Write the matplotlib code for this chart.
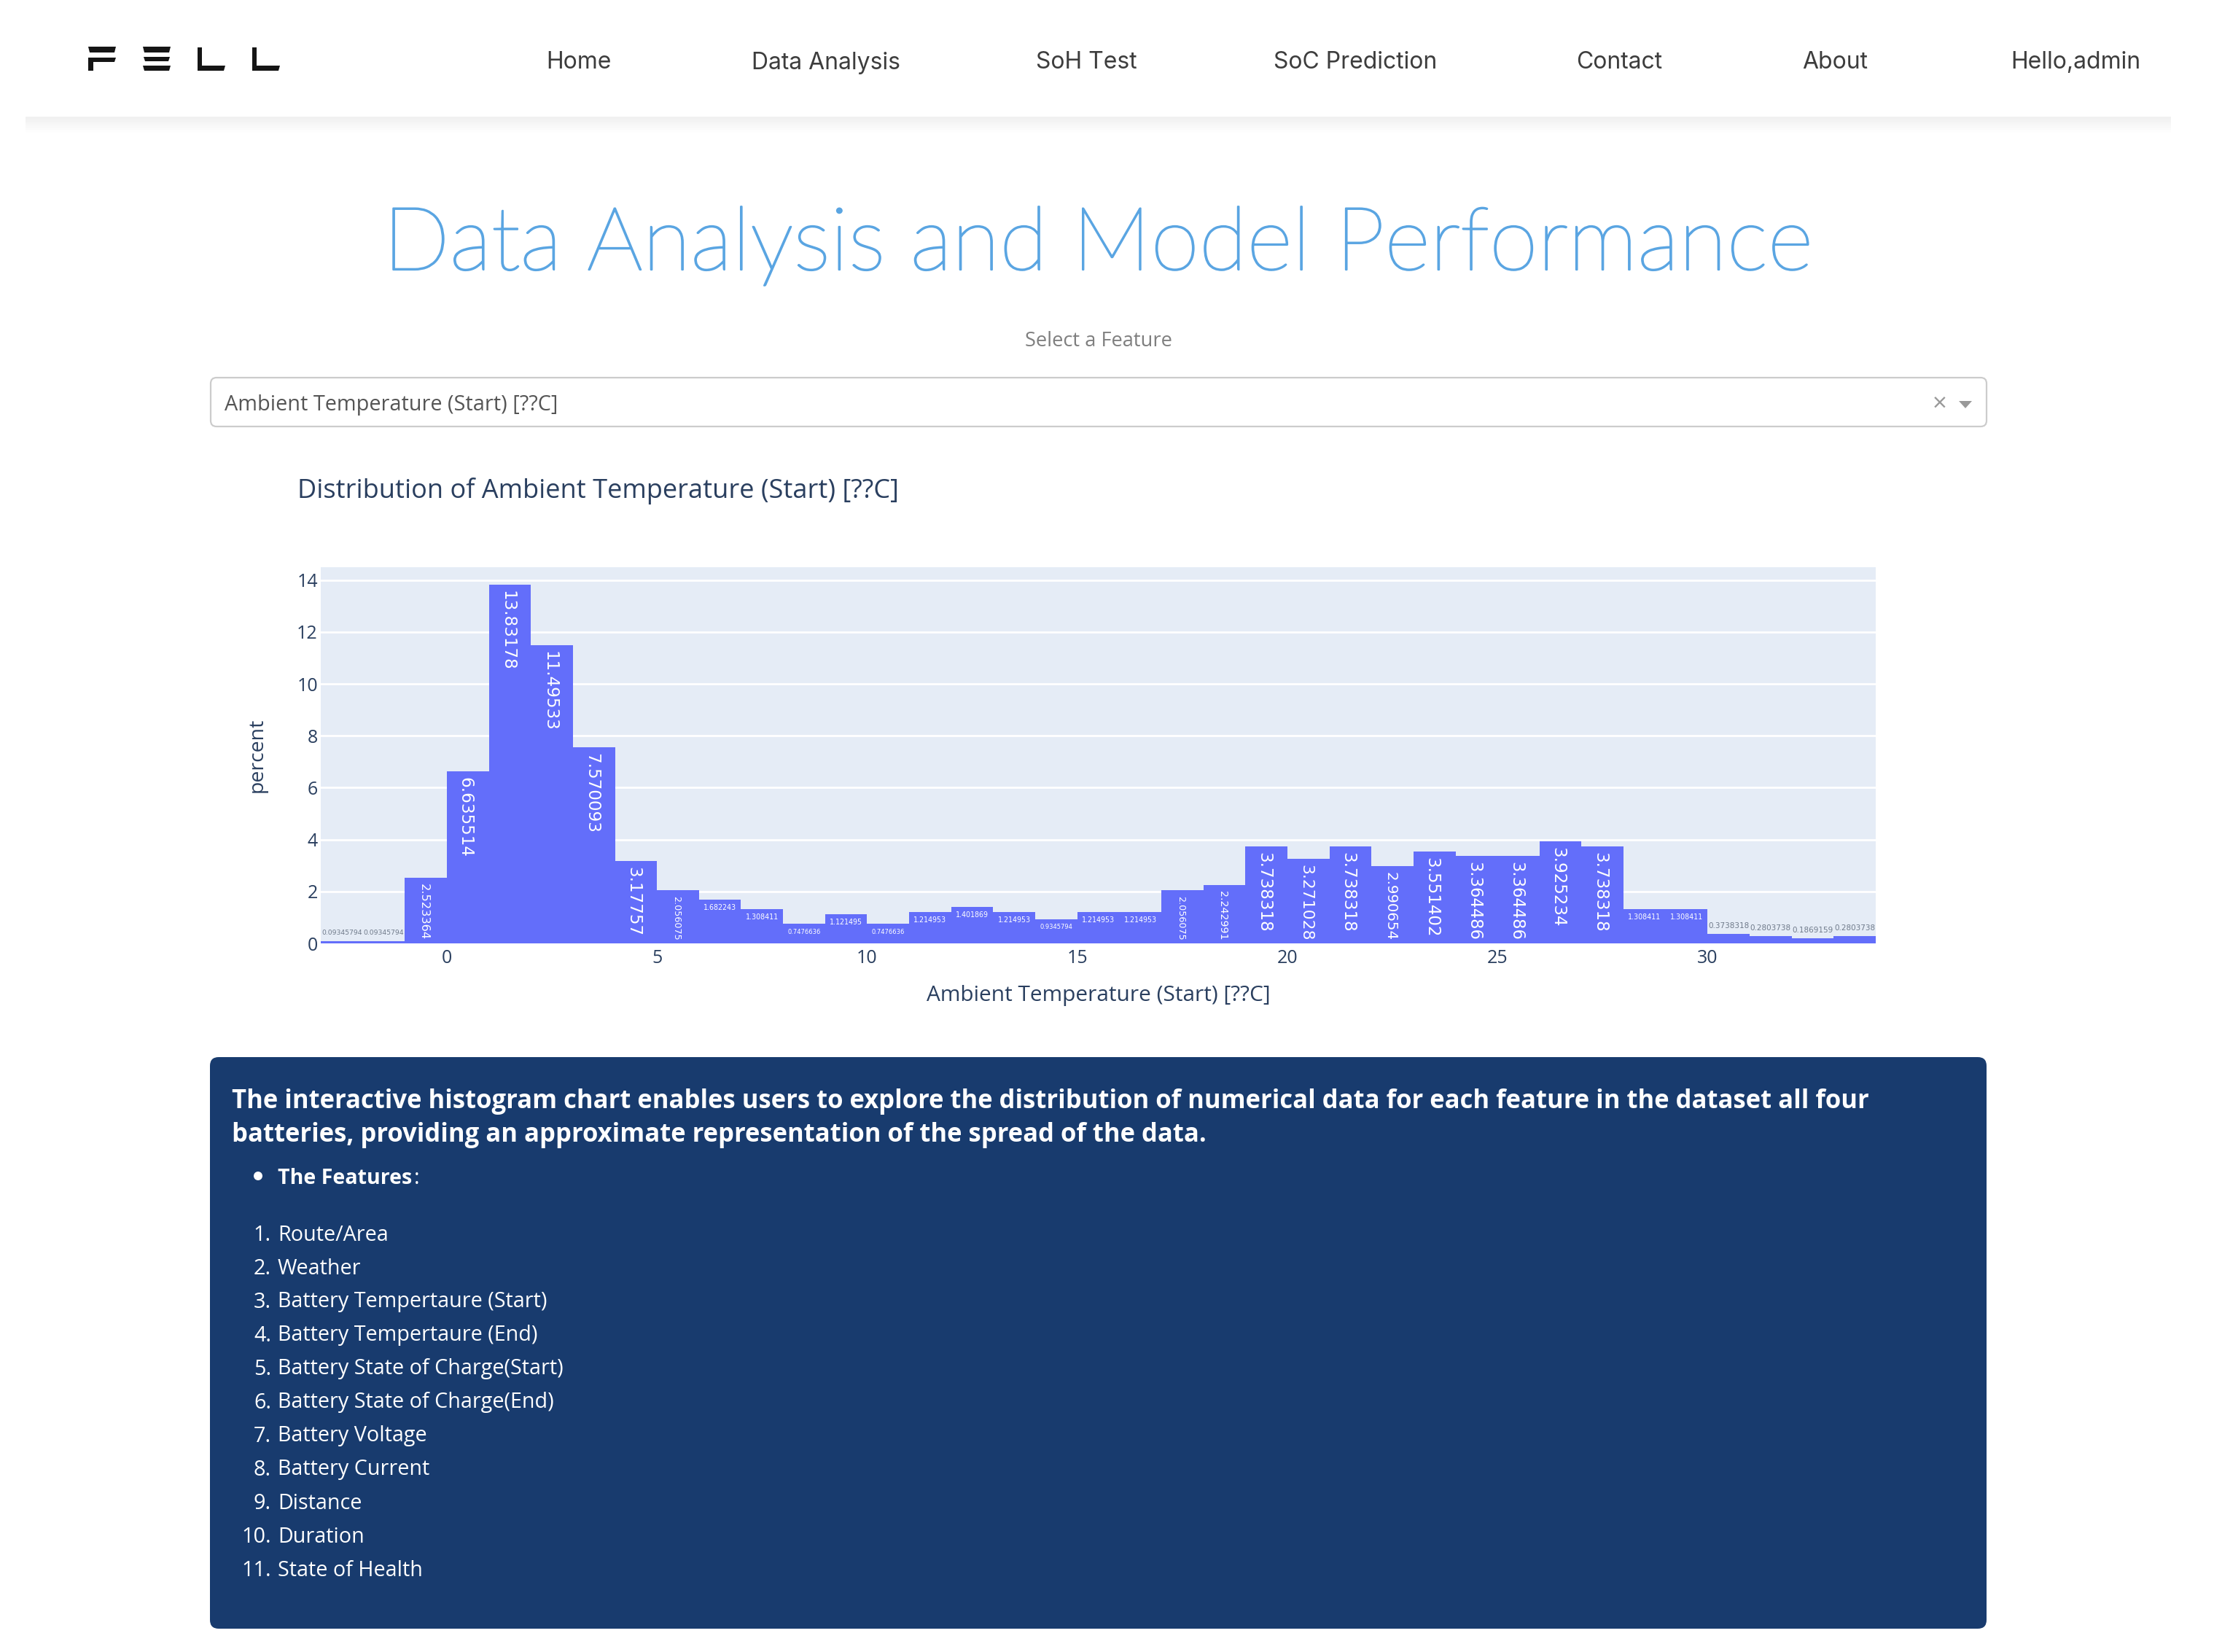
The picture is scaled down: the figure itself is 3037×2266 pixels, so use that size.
import matplotlib
matplotlib.use("Agg")
import matplotlib.pyplot as plt
import matplotlib.patheffects as pe
import numpy as np
from matplotlib.patches import FancyBboxPatch, Polygon

W, H = 3037, 2266

# histogram
bin_left = list(range(-3, 34))
percent = [0.09345794, 0.09345794, 2.523364, 6.635514, 13.83178, 11.49533, 7.570093, 3.17757,
           2.056075, 1.682243, 1.308411, 0.7476636, 1.121495, 0.7476636, 1.214953, 1.401869,
           1.214953, 0.9345794, 1.214953, 1.214953, 2.056075, 2.242991, 3.738318, 3.271028,
           3.738318, 2.990654, 3.551402, 3.364486, 3.364486, 3.925234, 3.738318, 1.308411,
           1.308411, 0.3738318, 0.2803738, 0.1869159, 0.2803738]
x_ticks = [0, 5, 10, 15, 20, 25, 30]
y_ticks = [0, 2, 4, 6, 8, 10, 12, 14]

# page text
nav_labels = ["Home", "Data Analysis", "SoH Test", "SoC Prediction", "Contact", "About", "Hello,admin"]
nav_x = [794, 1133, 1490, 1859, 2221, 2517, 2847]
intro_lines = ["The interactive histogram chart enables users to explore the distribution of numerical data for each feature in the dataset all four",
               "batteries, providing an approximate representation of the spread of the data."]
features = ["Route/Area", "Weather", "Battery Tempertaure (Start)", "Battery Tempertaure (End)",
            "Battery State of Charge(Start)", "Battery State of Charge(End)", "Battery Voltage",
            "Battery Current", "Distance", "Duration", "State of Health"]

FEATURE = "Ambient Temperature (Start) [??C]"
INK = "#2a3f5f"
NAVY = "#183b6e"

plt.rcParams["font.family"] = ["Open Sans", "DejaVu Sans"]

fig = plt.figure(figsize=(W / 100, H / 100), dpi=100, facecolor="white")
page = fig.add_axes([0, 0, 1, 1])
page.axis("off")

# header shadow
fade = np.linspace(0.94, 1.0, 24).reshape(-1, 1)
page.imshow(fade, cmap="gray", vmin=0, vmax=1, aspect="auto", extent=(35, 2978, 184, 160))
page.set_xlim(0, W)
page.set_ylim(H, 0)

# logo
logo = [[(121, 64), (159, 64), (157, 72), (123, 72)],
        [(121, 79), (159, 79), (157, 85), (128, 85), (128, 97), (121, 97)],
        [(196, 64), (234, 64), (232, 72), (198, 72)],
        [(197, 78), (233, 78), (231, 84), (199, 84)],
        [(196, 90), (234, 90), (232, 97), (198, 97)],
        [(271, 65), (277, 65), (277, 90), (309, 90), (307, 97), (271, 97)],
        [(346, 65), (352, 65), (352, 90), (384, 90), (382, 97), (346, 97)]]
for pts in logo:
    page.add_patch(Polygon(pts, closed=True, color="#151515", lw=0))

for label, x in zip(nav_labels, nav_x):
    page.text(x, 86, label, ha="center", va="center", fontsize=23, color="#3d3d3d", family="Inter")

title = page.text(1506, 370, "Data Analysis and Model Performance", ha="center", va="baseline",
                  fontsize=86.8, color="#5aa5e2", family="Lato", weight="light")
title.set_path_effects([pe.withStroke(linewidth=1.6, foreground="#5aa5e2")])
page.text(1507, 468, "Select a Feature", ha="center", va="center", fontsize=19.6, color="#7f7f7f")

# dropdown
page.add_patch(FancyBboxPatch((289, 518), 2436, 67, boxstyle="round,pad=0,rounding_size=8",
                              fc="white", ec="#cccccc", lw=1.6))
page.text(308, 556, FEATURE, ha="left", va="center", fontsize=20.8, color="#555555")
page.text(2661, 556, "×", ha="center", va="center", fontsize=25, color="#999999")
page.add_patch(Polygon([(2687, 550), (2705, 550), (2696, 560)], closed=True, color="#999999", lw=0))

page.text(408, 674, "Distribution of " + FEATURE, ha="left", va="center", fontsize=26, color=INK)

# text panel
page.add_patch(FancyBboxPatch((288, 1450), 2437, 784, boxstyle="round,pad=0,rounding_size=12",
                              fc=NAVY, ec="none"))
for y, line in zip([1511, 1557], intro_lines):
    page.text(318, y, line, ha="left", va="center", fontsize=24.9, weight="bold", color="white")
page.add_patch(plt.Circle((354, 1613), 6, color="white", lw=0))
bold = page.text(381, 1617, "The Features", ha="left", va="center", fontsize=20.6, weight="bold", color="white")
end_x = bold.get_window_extent(fig.canvas.get_renderer()).x1
page.text(end_x + 3, 1617, ":", ha="left", va="center", fontsize=20.6, color="white")
for i, name in enumerate(features):
    y = 1694 + i * 46
    page.text(372, y, f"{i + 1}.", ha="right", va="center", fontsize=20.7, color="white")
    page.text(381, y, name, ha="left", va="center", fontsize=20.7, color="white")

# chart
ax = fig.add_axes([440 / W, 1 - 1294 / H, (2573 - 440) / W, (1294 - 778) / H], facecolor="#e5ecf6")
ax.bar(bin_left, percent, width=1, align="edge", color="#636efa", zorder=3)
ax.set_xlim(-3, 34)
ax.set_ylim(0, 14.5)
ax.set_xticks(x_ticks)
ax.set_yticks(y_ticks)
ax.grid(axis="y", color="white", lw=2)
ax.set_axisbelow(True)
for side in ax.spines.values():
    side.set_visible(False)
ax.tick_params(length=0, labelsize=18, labelcolor=INK, pad=3)
ax.tick_params(axis="x", pad=6)
ax.set_xlabel(FEATURE, fontsize=21.5, color=INK, labelpad=17)
ax.set_ylabel("percent", fontsize=20.5, color=INK, labelpad=29)

# value labels, plotly style: shrink to fit the bar
px_per_unit = (1294 - 778) / 14.5
for left, v in zip(bin_left, percent):
    label = f"{v:.7g}"
    em = (len(label) - 1) * 0.636 + 0.318
    h = v * px_per_unit
    cx = left + 0.5
    if v > 1.9:
        size = min(23, (h - 12) / em) * 0.72
        ax.annotate(label, (cx, v), xytext=(-1, -8), textcoords="offset pixels", rotation=270,
                    rotation_mode="anchor", ha="left", va="center_baseline",
                    fontsize=size, color="white", family="DejaVu Sans", zorder=4)
    elif v > 0.6:
        size = 45.6 / em * 0.72
        ax.annotate(label, (cx, v), xytext=(0, -11), textcoords="offset pixels",
                    ha="center", va="center", fontsize=size, color="white", family="DejaVu Sans", zorder=4)
    else:
        size = 56 / em * 0.72
        ax.annotate(label, (cx, v), xytext=(0, 11), textcoords="offset pixels",
                    ha="center", va="center", fontsize=size, color="#6f7a8a", family="DejaVu Sans", zorder=4)

fig.savefig("out.png", dpi=100)
